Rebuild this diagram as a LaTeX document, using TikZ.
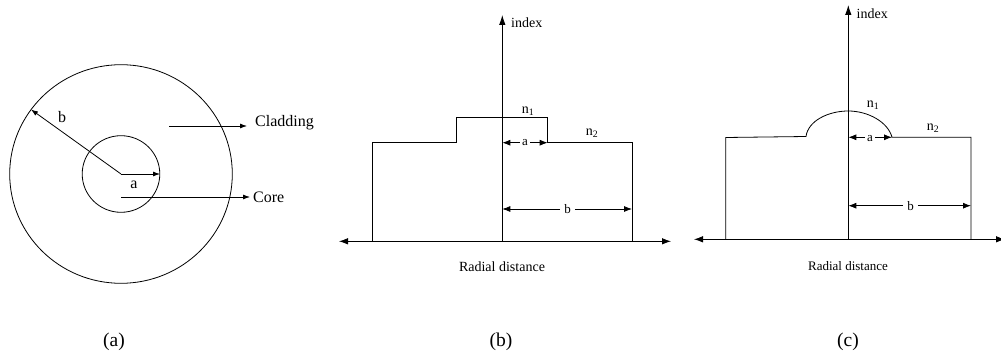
\documentclass[tikz,border=0pt]{standalone}
\usepackage{fontspec}
\setmainfont{Liberation Serif}
\usetikzlibrary{arrows.meta}
\tikzset{
  x=1pt,y=-1pt,
  line/.style={draw=black,line width=0.8pt},
  thick seg/.style={draw=black,line width=1.3pt},
  arr/.style={line,-{Latex[length=7pt,width=5pt]}},
  axisarr/.style={line,-{Latex[length=10pt,width=6.5pt]}},
  arrw/.style={line,-{Latex[length=8pt,width=6pt]}},
  dbl/.style={line,{Latex[length=9pt,width=6.5pt]}-{Latex[length=9pt,width=6.5pt]}},
  big/.style={font=\fontsize{16}{18}\selectfont,inner sep=0pt},
  mid/.style={font=\fontsize{14}{16}\selectfont,inner sep=0pt},
  capt/.style={font=\fontsize{19.5}{22}\selectfont,inner sep=0pt},
  small/.style={font=\fontsize{13}{14}\selectfont,inner sep=0pt},
}
\begin{document}
\begin{tikzpicture}
\path[use as bounding box] (0,0) rectangle (1001,358);
% (a)
\coordinate (o) at (121,174);
\coordinate (ob) at (31,109.5);
\coordinate (oa) at (160,174);
\draw[line] (o) ellipse [x radius=111.3,y radius=109.3];
\draw[line] (o) ellipse [x radius=38.8,y radius=38.3];
\draw[arr] (o) -- (ob);
\draw[arr] (o) -- (oa);
\coordinate (cs) at (121,197); \coordinate (ce) at (250,197);
\draw[arr] (cs) -- (ce);
\coordinate (ds) at (169,126); \coordinate (de) at (247,126);
\draw[arr] (ds) -- (de);
\node[big] (lb) at (62,117) {b};
\node[big] (la) at (134,185) {a};
\node[big,anchor=west] (lclad) at (255,123) {Cladding};
\node[big,anchor=west] (lcore) at (253,197) {Core};
% (b)
\coordinate (bt) at (502.3,15); \coordinate (bb) at (502.3,241.3);
\coordinate (bl) at (339,241.3); \coordinate (br) at (671,241.3);
\draw[axisarr] (bb) -- (bt);
\draw[dbl] (bl) -- (br);
\coordinate (bs) at (599,241.3);
\coordinate (b1) at (372.3,241.3); \coordinate (b2) at (372.3,142.7);
\coordinate (b3) at (456.7,142.7); \coordinate (b4) at (456.7,117.7);
\coordinate (b5) at (547.7,117.7); \coordinate (b6) at (547.7,142.7);
\coordinate (b7) at (632,142.7); \coordinate (b8) at (632,241.3);
\draw[line] (b1) -- (b2) -- (b3) -- (b4) -- (b5) -- (b6) -- (b7) -- (b8);
\draw[thick seg] (bs) -- (b8);
\coordinate (ba) at (502.3,142.7);
\node[small,inner xsep=2pt] (bal) at (525,143) {a};
\draw[arrw] (bal.west |- ba) -- (ba);
\draw[arrw] (bal.east |- ba) -- (b6);
\coordinate (bbl) at (502.3,209); \coordinate (bbr) at (632,209);
\node[small,inner xsep=4pt] (bbm) at (567.5,209) {b};
\draw[arrw] (bbm) -- (bbl);
\draw[arrw] (bbm) -- (bbr);
\node[mid,anchor=west] (bidx) at (511,23) {index};
\node[mid] (bn1) at (528,111) {n\textsubscript{1}};
\node[mid] (bn2) at (592,133) {n\textsubscript{2}};
\node[mid] (brd) at (502,267) {Radial distance};
\node[capt] (capb) at (501,342) {(b)};
% (c)
\coordinate (ct) at (848.3,5); \coordinate (cb) at (848.3,239.3);
\coordinate (cl) at (694,239.3); \coordinate (cr) at (1005,239.3);
\draw[axisarr] (cb) -- (ct);
\draw[dbl] (cl) -- (cr);
\coordinate (cs2) at (940,239.3);
\coordinate (c1) at (725.7,239.3); \coordinate (c2) at (725.7,137.5);
\coordinate (c3) at (806,136.5); \coordinate (c4) at (848.3,111);
\coordinate (c5) at (892,137.3); \coordinate (c6) at (971,137.3);
\coordinate (c7) at (971,239.3);
\draw[line] (c1) -- (c2) -- (c3) .. controls (808,121) and (828,111) .. (c4)
  .. controls (868,111) and (888,122) .. (c5) -- (c6) -- (c7);
\draw[thick seg] (cs2) -- (c7);
\coordinate (ca) at (848.3,137.3);
\node[small,inner xsep=2pt] (cal) at (870,139) {a};
\draw[arrw] (cal.west |- ca) -- (ca);
\draw[arrw] (cal.east |- ca) -- (c5);
\coordinate (cbl) at (848.3,205.7); \coordinate (cbr) at (971,205.7);
\node[small,inner xsep=4pt] (cbm) at (910.5,205.7) {b};
\draw[arrw] (cbm) -- (cbl);
\draw[arrw] (cbm) -- (cbr);
\node[mid,anchor=west] (cidx) at (856.5,14) {index};
\node[mid] (cn1) at (873,105) {n\textsubscript{1}};
\node[mid] (cn2) at (933,128) {n\textsubscript{2}};
\node[small] (crd) at (848,266) {Radial distance};
\node[capt] (capc) at (848,342) {(c)};
\node[capt] (capa) at (114,342) {(a)};
\end{tikzpicture}
\end{document}
